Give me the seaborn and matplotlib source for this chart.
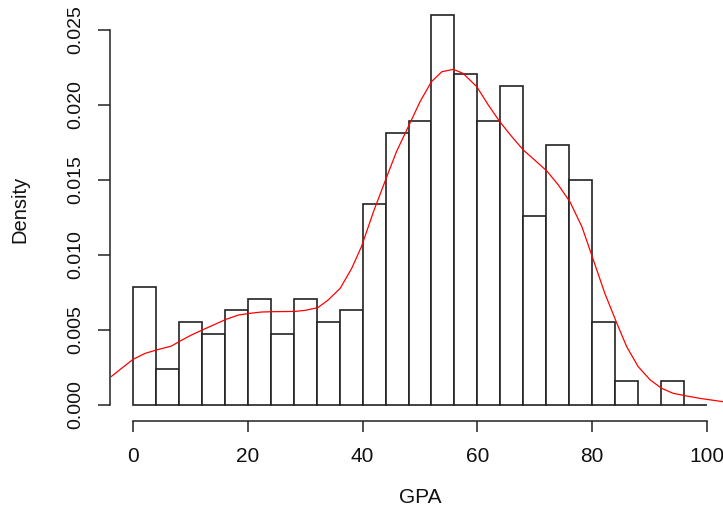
import matplotlib
matplotlib.use("Agg")
import matplotlib.pyplot as plt
import seaborn as sns
import numpy as np
import pandas as pd

# ---- data ----
bin_edges = [0, 4, 8, 12, 16, 20, 24, 28, 32, 36, 40, 44, 48, 52, 56, 60,
             64, 68, 72, 76, 80, 84, 88, 92, 96, 100]
bin_density = [0.00789, 0.00237, 0.00552, 0.00473, 0.00631, 0.00710, 0.00473,
               0.00710, 0.00552, 0.00631, 0.01341, 0.01814, 0.01893, 0.02603,
               0.02208, 0.01893, 0.02129, 0.01262, 0.01735, 0.01498, 0.00552,
               0.00158, 0.0, 0.00158, 0.0]

kde_x = [-3.8, -2.0, 0.0, 2.1, 4.1, 6.7, 8.0, 10.2, 12.3, 14.3, 16.2, 18.4,
         20.3, 22.4, 24.2, 28.2, 30.0, 32.2, 34.0, 36.1, 38.1, 39.8, 41.9,
         44.1, 45.9, 48.1, 50.0, 52.0, 53.8, 55.8, 57.5, 59.9, 61.9, 63.9,
         66.0, 68.0, 70.3, 72.1, 74.1, 76.1, 78.2, 80.2, 82.2, 84.3, 86.0,
         88.0, 90.1, 92.1, 94.1, 96.2, 98.8, 102.8, 104.0]
kde_y = [0.00189, 0.00244, 0.00304, 0.00344, 0.00367, 0.00393, 0.00422,
         0.00467, 0.00504, 0.00538, 0.00571, 0.00600, 0.00611, 0.00620,
         0.00622, 0.00624, 0.00631, 0.00649, 0.00700, 0.00778, 0.00911,
         0.01056, 0.01289, 0.01511, 0.01689, 0.01867, 0.02022, 0.02156,
         0.02222, 0.02238, 0.02211, 0.02122, 0.02000, 0.01889, 0.01789,
         0.01700, 0.01622, 0.01560, 0.01467, 0.01356, 0.01189, 0.00967,
         0.00744, 0.00544, 0.00389, 0.00256, 0.00167, 0.00111, 0.00078,
         0.00062, 0.00044, 0.00022, 0.00018]

x_ticks = [0, 20, 40, 60, 80, 100]
y_ticks = [0.000, 0.005, 0.010, 0.015, 0.020, 0.025]
y_tick_labels = ["0.000", "0.005", "0.010", "0.015", "0.020", "0.025"]
x_label = "GPA"
y_label = "Density"

# ---- figure ----
sns.set_style("white")
plt.rcParams["font.family"] = ["Liberation Sans", "DejaVu Sans"]

W, H = 723, 511
fig = plt.figure(figsize=(W / 100, H / 100), dpi=100)
ax_left, ax_right = 110, 730
ax_top, ax_bottom = -1, 420.6
ax = fig.add_axes([ax_left / W, (H - ax_bottom) / H,
                   (ax_right - ax_left) / W, (ax_bottom - ax_top) / H])

centers = [(bin_edges[i] + bin_edges[i + 1]) / 2 for i in range(len(bin_density))]
hist_df = pd.DataFrame({"x": centers, "w": bin_density})
sns.histplot(data=hist_df, x="x", weights="w", bins=bin_edges, stat="count",
             facecolor="white", edgecolor="#222222", linewidth=1.2,
             alpha=1, ax=ax)

kde_df = pd.DataFrame({"x": kde_x, "y": kde_y})
sns.lineplot(data=kde_df, x="x", y="y", color="#ff0000", linewidth=0.9,
             ax=ax, sort=False)

ax.set_xlim(-4, 104)
ax.set_ylim(-0.00104, 0.02707)

for s in ["top", "right"]:
    ax.spines[s].set_visible(False)
for s in ["left", "bottom"]:
    ax.spines[s].set_color("#222222")
    ax.spines[s].set_linewidth(1.1)
ax.spines["left"].set_bounds(0, 0.025)
ax.spines["bottom"].set_bounds(0, 100)

ax.set_xticks(x_ticks)
ax.set_xticklabels([str(t) for t in x_ticks])
ax.set_yticks(y_ticks)
ax.set_yticklabels(y_tick_labels)
ax.tick_params(axis="x", bottom=True, direction="out", length=8, width=1.1,
               color="#222222", pad=11, labelsize=15, labelcolor="#111111")
ax.tick_params(axis="y", left=True, direction="out", length=8.6, width=1.1,
               color="#222222", pad=10, labelsize=14, labelcolor="#111111",
               labelrotation=90)
for lab in ax.get_yticklabels():
    lab.set_va("center")
    lab.set_ha("right")

ax.set_xlabel(x_label, fontsize=15, color="#111111", va="center")
ax.set_ylabel(y_label, fontsize=14.5, color="#111111", va="center")
ax.xaxis.set_label_coords(0.5, (ax_bottom - 497) / (ax_bottom - ax_top))
ax.yaxis.set_label_coords((20 - ax_left) / (ax_right - ax_left), 0.5)
ax.grid(False)

fig.savefig("out.png", dpi=100)
